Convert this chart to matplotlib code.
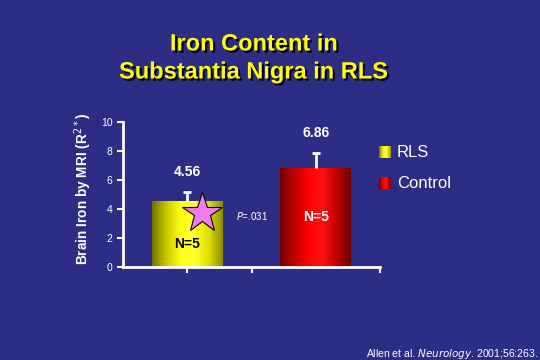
import numpy as np
import matplotlib
matplotlib.use("Agg")
import matplotlib.pyplot as plt
import matplotlib.patheffects as pe
from matplotlib.colors import LinearSegmentedColormap

categories = ["RLS", "Control"]
values = [4.56, 6.86]
errors = [0.6, 1.0]
n_labels = ["N=5", "N=5"]
yticks = [0, 2, 4, 6, 8, 10]
p_text = "P=.031"

BG = "#2D2D86"
plt.rcParams['font.family'] = ['Liberation Sans', 'DejaVu Sans']

fig = plt.figure(figsize=(5.4, 3.6), dpi=100, facecolor=BG)
ax = fig.add_axes([0.2278, 0.2583, 0.4759, 0.4028])
ax.set_facecolor(BG)

xpos = [0.5, 1.5]
width = 0.55
cmaps = [
    LinearSegmentedColormap.from_list("y", ["#707000", "#C8C800", "#FFFF10", "#FFFF30", "#E0E000", "#8A8A00"]),
    LinearSegmentedColormap.from_list("r", ["#700000", "#C00000", "#FF0000", "#FF1010", "#C00000", "#700000"]),
]
bars = ax.bar(xpos, values, width=width, color="none", edgecolor="none", zorder=2)
grad = np.linspace(0, 1, 256).reshape(1, -1)
for b, cm in zip(bars, cmaps):
    x0 = b.get_x(); x1 = x0 + b.get_width(); h = b.get_height()
    im = ax.imshow(grad, cmap=cm, extent=[x0, x1, 0, h], aspect="auto", zorder=2)
    im.set_clip_path(b)

# error bars (upper only, single cap)
tops = [v + e for v, e in zip(values, errors)]
ax.vlines(xpos, values, tops, colors="white", linewidth=2, zorder=3)
ax.plot(xpos, tops, linestyle="none", marker="_", markersize=6, markeredgewidth=2,
        color="white", zorder=3)

# value labels
for x, v, t in zip(xpos, values, tops):
    ax.text(x, t + 0.9, f"{v:.2f}", ha="center", va="bottom", color="white",
            fontsize=10, fontweight="bold")

# N labels
ax.text(xpos[0], 1.6, n_labels[0], ha="center", va="center", color="black", fontsize=10, fontweight="bold")
ax.text(xpos[1], 3.45, n_labels[1], ha="center", va="center", color="white", fontsize=10, fontweight="bold")

# star
ax.plot([0.615], [3.72], marker="*", markersize=30, markerfacecolor="#F07CF0",
        markeredgecolor="black", markeredgewidth=0.8, zorder=4, clip_on=False)

# p value
ax.text(0.88, 3.55, r"$\it{P}$" + "=.031", color="white", fontsize=7, ha="left", va="center")

ax.set_xlim(0, 2)
ax.set_ylim(0, 10)
ax.set_yticks(yticks)
ax.set_xticks([0.5, 1.0, 2.0])
ax.set_xticklabels([])
for s in ["top", "right"]:
    ax.spines[s].set_visible(False)
for s in ["left", "bottom"]:
    ax.spines[s].set_color("white")
    ax.spines[s].set_linewidth(2)
ax.tick_params(axis="both", colors="white", width=1.5, length=4, labelsize=7.5)
ax.set_ylabel(r"Brain Iron by MRI (R$^{2*}$)", color="white", fontsize=9.8,
              fontweight="bold")
ax.yaxis.set_label_coords(-0.112, 0.54)

# legend
for i, (lab, cm) in enumerate(zip(categories, cmaps)):
    yy = 1 - (152 + 31 * i) / 360
    lax = fig.add_axes([379 / 540, yy - 6 / 360, 12 / 540, 12 / 360])
    lax.imshow(grad, cmap=cm, aspect="auto")
    lax.axis("off")
    fig.text(397 / 540, yy, lab, color="white", fontsize=12, va="center", ha="left")

# title
shadow = [pe.SimplePatchShadow(offset=(1.5, -1.5), shadow_rgbFace="black", alpha=1), pe.Normal()]
fig.text(254 / 540, 1 - 44 / 360, "Iron Content in", color="#FFFF00", fontsize=17,
         fontweight="bold", ha="center", va="center", path_effects=shadow)
fig.text(254 / 540, 1 - 72 / 360, "Substantia Nigra in RLS", color="#FFFF00", fontsize=17,
         fontweight="bold", ha="center", va="center", path_effects=shadow)

# citation
fig.text(538 / 540, 1 - 354 / 360, r"Allen et al. $\it{Neurology}$. 2001;56:263.",
         color="white", fontsize=7.5, ha="right", va="center")

fig.savefig("out.png", dpi=100, facecolor=BG)
